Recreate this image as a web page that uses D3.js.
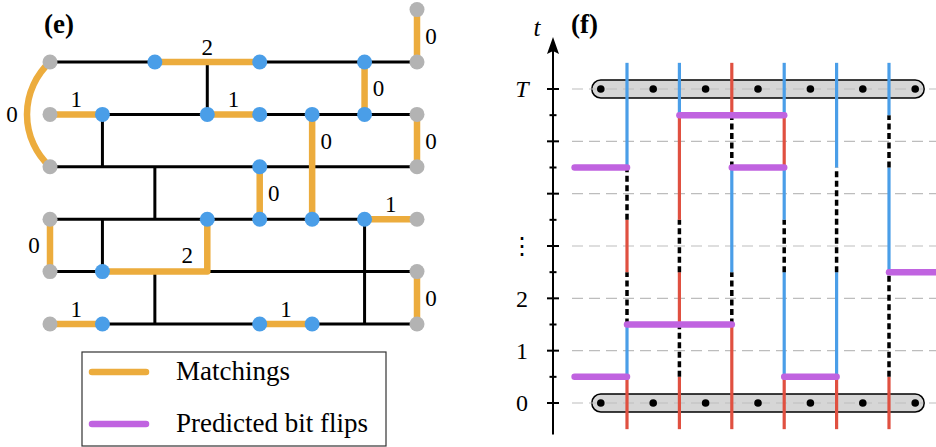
<!DOCTYPE html>
<html>
<head>
<meta charset="utf-8">
<script src="https://cdn.jsdelivr.net/npm/d3@7"></script>
<style>
  body { margin: 0; background: #fff; }
  svg { display: block; }
  text { font-family: "Liberation Serif", "DejaVu Serif", serif; fill: #000; }
</style>
</head>
<body>
<div id="chart"></div>
<script>
// Panel (e): decoding graph with matchings
const boundaryNodes = [[0, 0], [7, 0], [7, -1], [0, 1], [7, 1], [0, 2], [7, 2], [0, 3], [7, 3], [0, 4], [7, 4], [0, 5], [7, 5]];
const syndromeNodes = [[2, 0], [4, 0], [6, 0], [1, 1], [3, 1], [4, 1], [5, 1], [6, 1], [4, 2],
                       [3, 3], [4, 3], [5, 3], [6, 3], [1, 4], [1, 5], [4, 5], [5, 5]];
const graphRows = [0, 1, 2, 3, 4, 5];
// vertical edges: [column, fromRow, toRow]
const rungs = [[3, 0, 1], [1, 1, 2], [2, 2, 3], [1, 3, 4], [6, 3, 5], [2, 4, 5]];
const matchings = [
    {path: [[2, 0], [4, 0]], weight: 2, side: 'above'},
    {path: [[7, -1], [7, 0]], weight: 0, side: 'right'},
    {path: [[6, 0], [6, 1]], weight: 0, side: 'right'},
    {path: [[0, 0], [0, 2]], weight: 0, side: 'arc'},
    {path: [[0, 1], [1, 1]], weight: 1, side: 'above'},
    {path: [[3, 1], [4, 1]], weight: 1, side: 'above'},
    {path: [[5, 1], [5, 3]], weight: 0, side: 'right'},
    {path: [[7, 1], [7, 2]], weight: 0, side: 'right'},
    {path: [[4, 2], [4, 3]], weight: 0, side: 'right'},
    {path: [[6, 3], [7, 3]], weight: 1, side: 'above'},
    {path: [[0, 3], [0, 4]], weight: 0, side: 'left'},
    {path: [[3, 3], [3, 4], [1, 4]], weight: 2, side: 'corner'},
    {path: [[7, 4], [7, 5]], weight: 0, side: 'right'},
    {path: [[0, 5], [1, 5]], weight: 1, side: 'above'},
    {path: [[4, 5], [5, 5]], weight: 1, side: 'above'}
];
const legendItems = [
    {label: 'Matchings', color: '#ecac3d'},
    {label: 'Predicted bit flips', color: '#c063e0'}
];

// Panel (f): time evolution, one string per qubit, one letter per time step from the bottom
// r = red, b = blue, d = dashed
const qubitHistory = ['rbdrdbb', 'rdrdrrb', 'rrdbbdr', 'rbbdbrb', 'rbbddbb', 'rddbbdb'];
const bitFlips = [
    {t: 0.5, from: 0, to: 1}, {t: 1.5, from: 1, to: 3}, {t: 0.5, from: 4, to: 5},
    {t: 2.5, from: 6, to: 7}, {t: 4.5, from: 0, to: 1}, {t: 4.5, from: 3, to: 4},
    {t: 5.5, from: 2, to: 4}
];
const timeTicks = [0, 1, 2, 3, 4, 5, 6];
const timeLabels = [
    {t: 0, text: '0'}, {t: 1, text: '1'}, {t: 2, text: '2'}, {t: 3, text: '⋮'}, {t: 6, text: 'T', italic: true}
];
const stabilizerRounds = [0, 6];

const colors = {
    orange: '#ecac3d', purple: '#c063e0', blue: '#4a9ee8', red: '#e05040',
    gray: '#b3b3b3', grid: '#bdbdbd', pill: '#d6d6d6'
};

const width = 936, height = 447;
const svg = d3.select('#chart').append('svg')
    .attr('width', width)
    .attr('height', height);

// ---------- panel (e) ----------
const ex = d3.scaleLinear().domain([0, 7]).range([50, 417]);
const ey = d3.scaleLinear().domain([0, 5]).range([62, 324]);
const pe = svg.append('g');

pe.append('text')
    .attr('x', 44).attr('y', 33)
    .style('font-size', '27px').style('font-weight', 'bold')
    .text('(e)');

pe.selectAll('line.row')
    .data(graphRows)
    .join('line')
    .attr('x1', ex(0)).attr('x2', ex(7))
    .attr('y1', d => ey(d)).attr('y2', d => ey(d))
    .attr('stroke', '#000').attr('stroke-width', 3);

pe.selectAll('line.rung')
    .data(rungs)
    .join('line')
    .attr('x1', d => ex(d[0])).attr('x2', d => ex(d[0]))
    .attr('y1', d => ey(d[1])).attr('y2', d => ey(d[2]))
    .attr('stroke', '#000').attr('stroke-width', 3);

const pathLine = d3.line().x(d => ex(d[0])).y(d => ey(d[1]));
const arcBulge = 23;

pe.selectAll('path.match')
    .data(matchings)
    .join('path')
    .attr('d', d => {
        if (d.side !== 'arc') return pathLine(d.path);
        const [a, b] = d.path;
        const chord = ey(b[1]) - ey(a[1]);
        const r = (chord * chord / 4 + arcBulge * arcBulge) / (2 * arcBulge);
        return `M${ex(a[0])},${ey(a[1])} A${r},${r} 0 0 0 ${ex(b[0])},${ey(b[1])}`;
    })
    .attr('fill', 'none')
    .attr('stroke', colors.orange)
    .attr('stroke-width', 6.5)
    .attr('stroke-linejoin', 'round');

// weight label sits next to the first unit step of the path
function labelPos(d) {
    const [a, b] = d.path;
    const mx = (ex(a[0]) + ex(b[0])) / 2;
    const my = (ey(a[1]) + ey(b[1])) / 2;
    if (d.side === 'above') return [mx, my - 15];
    if (d.side === 'right') return [ex(a[0]) + 14, ey(a[1] + 0.5)];
    if (d.side === 'left') return [mx - 16, my];
    if (d.side === 'arc') return [mx - arcBulge - 15, my];
    const c = d.path[1];
    return [ex(c[0]) - 20, ey(c[1]) - 17];
}

pe.selectAll('text.weight')
    .data(matchings)
    .join('text')
    .attr('x', d => labelPos(d)[0])
    .attr('y', d => labelPos(d)[1])
    .attr('dy', '0.35em')
    .attr('text-anchor', 'middle')
    .style('font-size', '23px')
    .text(d => d.weight);

pe.selectAll('circle.boundary')
    .data(boundaryNodes)
    .join('circle')
    .attr('cx', d => ex(d[0])).attr('cy', d => ey(d[1]))
    .attr('r', 7.5)
    .attr('fill', colors.gray);

pe.selectAll('circle.syndrome')
    .data(syndromeNodes)
    .join('circle')
    .attr('cx', d => ex(d[0])).attr('cy', d => ey(d[1]))
    .attr('r', 7.5)
    .attr('fill', colors.blue);

// legend
const legend = pe.append('g');
legend.append('rect')
    .attr('x', 82).attr('y', 352)
    .attr('width', 304).attr('height', 94)
    .attr('fill', '#fff').attr('stroke', '#333').attr('stroke-width', 1.2);

const legendRow = legend.selectAll('g.item')
    .data(legendItems)
    .join('g')
    .attr('transform', (d, i) => `translate(0,${372 + i * 52})`);

legendRow.append('line')
    .attr('x1', 92).attr('x2', 146)
    .attr('stroke', d => d.color).attr('stroke-width', 6.5)
    .attr('stroke-linecap', 'round');

legendRow.append('text')
    .attr('x', 176).attr('y', 8)
    .style('font-size', '27px')
    .text(d => d.label);

// ---------- panel (f) ----------
const fx = d3.scaleLinear().domain([1, 6]).range([627, 889]);
const fy = d3.scaleLinear().domain([0, 6]).range([403, 89]);
const pf = svg.append('g');
const axisX = 553;

pf.append('text')
    .attr('x', 571).attr('y', 33)
    .style('font-size', '27px').style('font-weight', 'bold')
    .text('(f)');

pf.append('text')
    .attr('x', 537).attr('y', 36)
    .attr('text-anchor', 'middle')
    .style('font-size', '25px').style('font-style', 'italic')
    .text('t');

// axis
pf.append('line')
    .attr('x1', axisX).attr('x2', axisX)
    .attr('y1', fy(-0.6)).attr('y2', 50)
    .attr('stroke', '#000').attr('stroke-width', 2);
pf.append('path')
    .attr('d', `M${axisX},37 L${axisX + 6},54 L${axisX},51 L${axisX - 6},54 Z`)
    .attr('fill', '#000');

pf.selectAll('line.major')
    .data(timeTicks)
    .join('line')
    .attr('x1', axisX - 6).attr('x2', axisX + 6)
    .attr('y1', d => fy(d)).attr('y2', d => fy(d))
    .attr('stroke', '#000').attr('stroke-width', 2);

pf.selectAll('line.minor')
    .data(timeTicks.slice(0, -1))
    .join('line')
    .attr('x1', axisX - 3.5).attr('x2', axisX + 3.5)
    .attr('y1', d => fy(d + 0.5)).attr('y2', d => fy(d + 0.5))
    .attr('stroke', '#000').attr('stroke-width', 2);

pf.selectAll('text.tlabel')
    .data(timeLabels)
    .join('text')
    .attr('x', 522)
    .attr('y', d => fy(d.t))
    .attr('dy', '0.35em')
    .attr('text-anchor', 'middle')
    .style('font-size', '24px')
    .style('font-style', d => d.italic ? 'italic' : 'normal')
    .text(d => d.text);

// stabilizer pills
pf.selectAll('rect.pill')
    .data(stabilizerRounds)
    .join('rect')
    .attr('x', fx(0.5) - 9).attr('width', fx(6.5) - fx(0.5) + 18)
    .attr('y', d => fy(d) - 9).attr('height', 18)
    .attr('rx', 9)
    .attr('fill', colors.pill)
    .attr('stroke', '#000').attr('stroke-width', 1.5);

pf.selectAll('line.grid')
    .data(timeTicks)
    .join('line')
    .attr('x1', 572).attr('x2', width)
    .attr('y1', d => fy(d)).attr('y2', d => fy(d))
    .attr('stroke', colors.grid).attr('stroke-width', 1.2)
    .attr('stroke-dasharray', '11,6');

const dotCols = d3.range(0.5, 7, 1);
stabilizerRounds.forEach(t => {
    pf.append('g').selectAll('circle')
        .data(dotCols)
        .join('circle')
        .attr('cx', d => fx(d)).attr('cy', fy(t))
        .attr('r', 3.8)
        .attr('fill', '#000');
});

// qubit worldlines: merge consecutive equal steps into runs
const runs = [];
qubitHistory.forEach((h, qi) => {
    let start = 0;
    for (let k = 1; k <= h.length; k++) {
        if (k === h.length || h[k] !== h[start]) {
            runs.push({q: qi + 1, kind: h[start], t0: start - 0.5, t1: k - 0.5});
            start = k;
        }
    }
});

pf.selectAll('line.run')
    .data(runs)
    .join('line')
    .attr('x1', d => fx(d.q)).attr('x2', d => fx(d.q))
    .attr('y1', d => fy(d.t0)).attr('y2', d => fy(d.t1))
    .attr('stroke', d => d.kind === 'r' ? colors.red : d.kind === 'b' ? colors.blue : '#000')
    .attr('stroke-width', d => d.kind === 'd' ? 3.5 : 3.2)
    .attr('stroke-dasharray', d => d.kind === 'd' ? '6,3.5' : null);

pf.selectAll('line.flip')
    .data(bitFlips)
    .join('line')
    .attr('x1', d => fx(d.from)).attr('x2', d => fx(d.to))
    .attr('y1', d => fy(d.t)).attr('y2', d => fy(d.t))
    .attr('stroke', colors.purple).attr('stroke-width', 6.5)
    .attr('stroke-linecap', 'round');
</script>
</body>
</html>
